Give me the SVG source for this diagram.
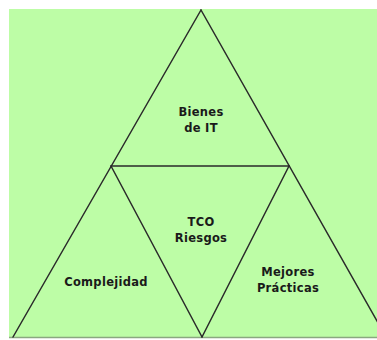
<svg xmlns="http://www.w3.org/2000/svg" width="377" height="340" viewBox="0 0 377 340">
<style>
.ln{stroke:#2a2a2a;stroke-width:1.5;fill:none;stroke-linecap:round}
.t{font-family:"DejaVu Sans",Verdana,sans-serif;font-size:11.5px;font-weight:bold;fill:#1a1a1a;text-anchor:middle;letter-spacing:0.3px}
</style>
<rect x="9" y="9" width="368" height="328" fill="#bdfda6"/>
<line x1="9" y1="337.5" x2="377" y2="337.5" stroke="#8aa880" stroke-width="1.5"/>
<g id="connectors">
<line class="ln" x1="201" y1="10" x2="13" y2="337"/>
<line class="ln" x1="201" y1="10" x2="386" y2="337"/>
<line class="ln" x1="111" y1="166" x2="289" y2="166"/>
<line class="ln" x1="111" y1="166" x2="202" y2="337"/>
<line class="ln" x1="289" y1="166" x2="202" y2="337"/>
</g>
<g id="bienes"><text class="t" x="201" y="116">Bienes</text><text class="t" x="201" y="132">de IT</text></g>
<g id="tco"><text class="t" x="201" y="226">TCO</text><text class="t" x="201" y="242">Riesgos</text></g>
<g id="complejidad"><text class="t" x="106" y="286">Complejidad</text></g>
<g id="mejores"><text class="t" x="288" y="276">Mejores</text><text class="t" x="288" y="292">Prácticas</text></g>
</svg>
